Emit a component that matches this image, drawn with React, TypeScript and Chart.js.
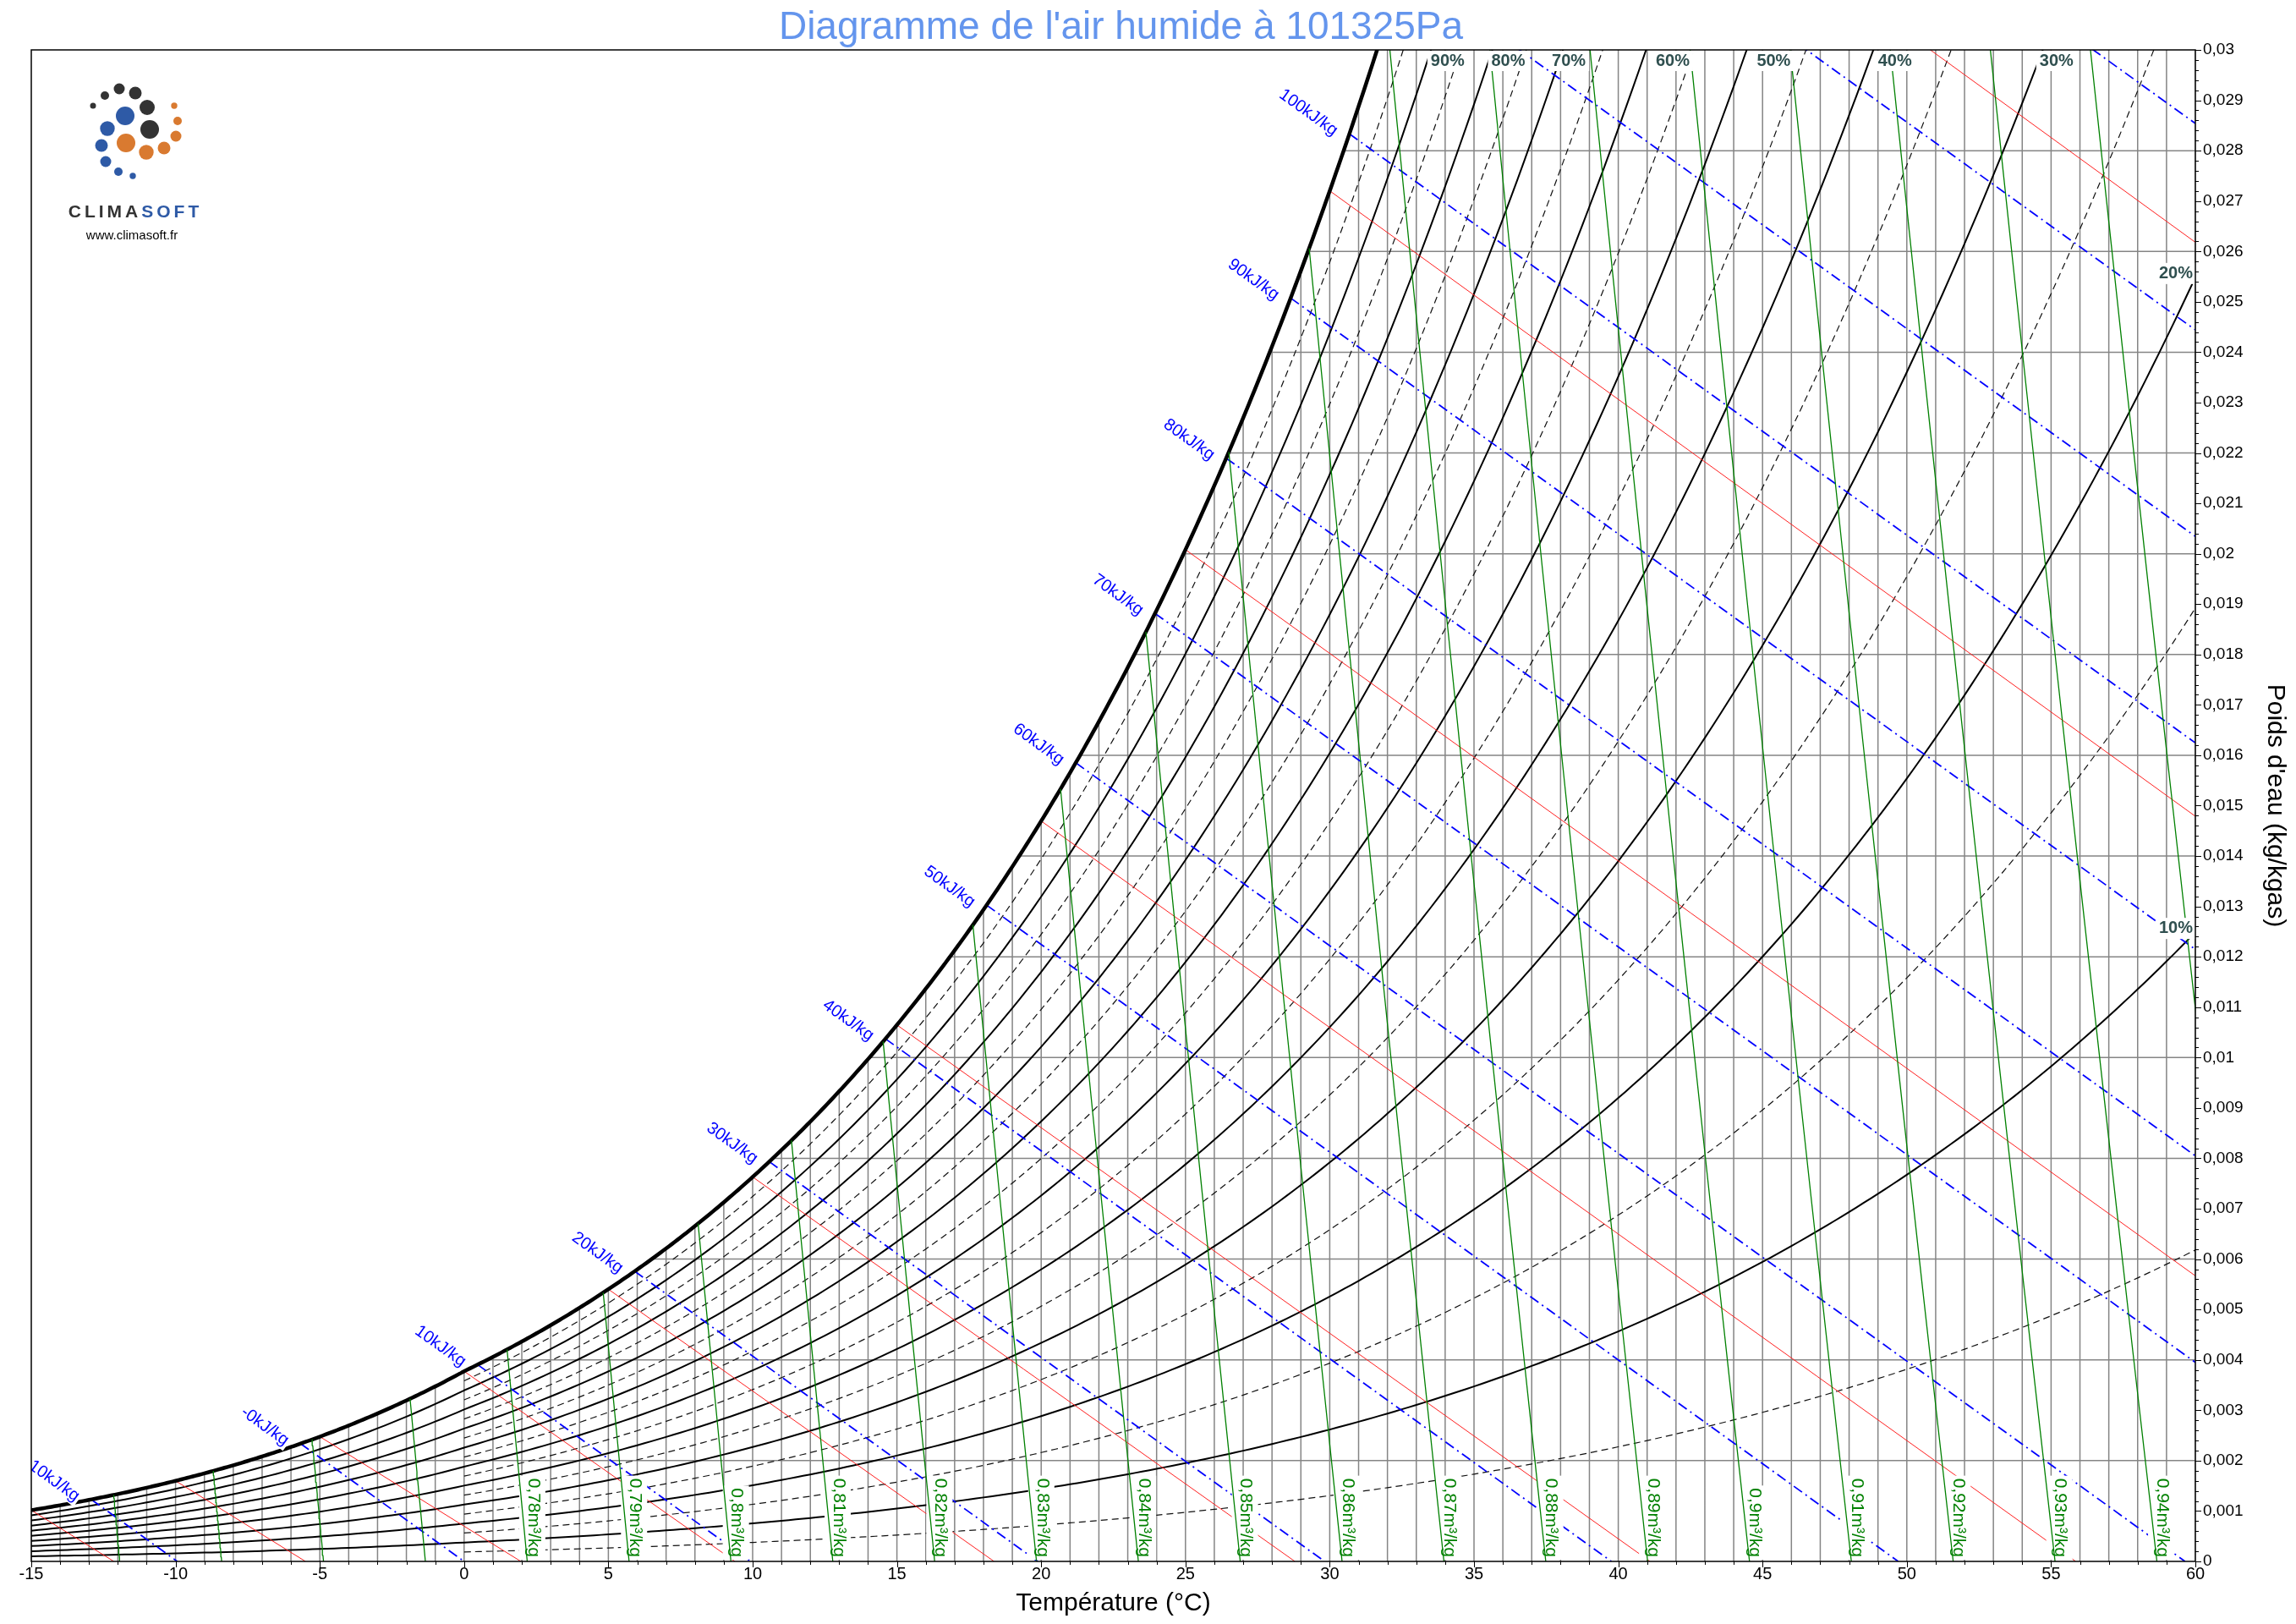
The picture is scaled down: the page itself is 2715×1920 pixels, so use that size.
import React, { useEffect, useRef } from 'react';
import { Chart, registerables } from 'chart.js';

Chart.register(...registerables);

const FONT = "'Liberation Sans', Arial, Helvetica, sans-serif";

// ---------- axes ----------
const tempMin = -15;
const tempMax = 60;
const humMin = 0;
const humMax = 0.03;
const xTickValues = [-15, -10, -5, 0, 5, 10, 15, 20, 25, 30, 35, 40, 45, 50, 55, 60];
const xTickLabels = ['-15', '-10', '-5', '0', '5', '10', '15', '20', '25', '30', '35', '40', '45', '50', '55', '60'];
const yTickLabels = [
  '0', '0,001', '0,002', '0,003', '0,004', '0,005', '0,006', '0,007', '0,008', '0,009', '0,01',
  '0,011', '0,012', '0,013', '0,014', '0,015', '0,016', '0,017', '0,018', '0,019', '0,02',
  '0,021', '0,022', '0,023', '0,024', '0,025', '0,026', '0,027', '0,028', '0,029', '0,03',
];
const gridTemps = [-15, -14, -13, -12, -11, -10, -9, -8, -7, -6, -5, -4, -3, -2, -1, 0, 1, 2, 3, 4, 5, 6, 7, 8, 9, 10,
  11, 12, 13, 14, 15, 16, 17, 18, 19, 20, 21, 22, 23, 24, 25, 26, 27, 28, 29, 30, 31, 32, 33, 34, 35, 36, 37, 38, 39, 40,
  41, 42, 43, 44, 45, 46, 47, 48, 49, 50, 51, 52, 53, 54, 55, 56, 57, 58, 59, 60];
const gridHumidities = [0.002, 0.004, 0.006, 0.008, 0.01, 0.012, 0.014, 0.016, 0.018, 0.02, 0.022, 0.024, 0.026, 0.028];

// ---------- series levels ----------
const rhSolidLevels = [10, 20, 30, 40, 50, 60, 70, 80, 90];
const rhDashedLevels = [5, 15, 25, 35, 45, 55, 65, 75, 85, 95];
const enthalpyLevels = [-10, 0, 10, 20, 30, 40, 50, 60, 70, 80, 90, 100, 110, 120, 130];
const enthalpyLabelTexts = ['-10kJ/kg', '-0kJ/kg', '10kJ/kg', '20kJ/kg', '30kJ/kg', '40kJ/kg', '50kJ/kg',
  '60kJ/kg', '70kJ/kg', '80kJ/kg', '90kJ/kg', '100kJ/kg'];
const wetBulbLevels = [-15, -10, -5, 0, 5, 10, 15, 20, 25, 30, 35];
const volumeLevels = [0.74, 0.75, 0.76, 0.77, 0.78, 0.79, 0.8, 0.81, 0.82, 0.83, 0.84, 0.85, 0.86, 0.87,
  0.88, 0.89, 0.9, 0.91, 0.92, 0.93, 0.94, 0.95];
const volumeLabelLevels = [0.78, 0.79, 0.8, 0.81, 0.82, 0.83, 0.84, 0.85, 0.86, 0.87, 0.88, 0.89, 0.9, 0.91,
  0.92, 0.93, 0.94];
const volumeLabelTexts = ['0,78m³/kg', '0,79m³/kg', '0,8m³/kg', '0,81m³/kg', '0,82m³/kg', '0,83m³/kg',
  '0,84m³/kg', '0,85m³/kg', '0,86m³/kg', '0,87m³/kg', '0,88m³/kg', '0,89m³/kg', '0,9m³/kg', '0,91m³/kg',
  '0,92m³/kg', '0,93m³/kg', '0,94m³/kg'];
const rhTopLabelTexts = ['90%', '80%', '70%', '60%', '50%', '40%', '30%'];
const rhTopLabelTemps = [33.5, 35.6, 37.7, 41.3, 44.8, 49.0, 54.6];
const rhSideLabelLevels = [20, 10];
const rhSideLabelTexts = ['20%', '10%'];

// ---------- psychrometrics ----------
const P_ATM = 101325;
const R_AIR = 287.042;
const CP_AIR = 1.006;
const ENTH_K = 2440;

function satPressure(t: number): number {
  const T = t + 273.15;
  if (t < 0) {
    return Math.exp(-5.6745359e3 / T + 6.3925247 - 9.677843e-3 * T + 6.2215701e-7 * T * T +
      2.0747825e-9 * T ** 3 - 9.484024e-13 * T ** 4 + 4.1635019 * Math.log(T));
  }
  return Math.exp(-5.8002206e3 / T + 1.3914993 - 4.8640239e-2 * T + 4.1764768e-5 * T * T -
    1.4452093e-8 * T ** 3 + 6.5459673 * Math.log(T));
}
function wFromPv(pv: number): number { return 0.621945 * pv / (P_ATM - pv); }
function wSat(t: number): number { return wFromPv(satPressure(t)); }
function wRh(phi: number, t: number): number { return wFromPv(phi / 100 * satPressure(t)); }
function bisect(f: (v: number) => number, a: number, b: number): number {
  let fa = f(a);
  for (let i = 0; i < 80; i++) {
    const m = (a + b) / 2;
    const fm = f(m);
    if ((fm > 0) === (fa > 0)) { a = m; fa = fm; } else { b = m; }
  }
  return (a + b) / 2;
}
function dewPoint(w: number): number { return bisect((t) => wSat(t) - w, -60, 90); }
function enthalpyW(h: number, t: number): number { return (h - CP_AIR * t) / ENTH_K; }
function enthalpyStart(h: number): number { return bisect((t) => wSat(t) - enthalpyW(h, t), -40, 80); }
function volumeTemp(v: number, w: number): number {
  return v * P_ATM * (1 + w) / (R_AIR * (1 + 1.607858 * w)) - 273.15;
}
function volumeEndW(v: number): number { return bisect((w) => wSat(volumeTemp(v, w)) - w, 0, 0.2); }

// ---------- dataset builders ----------
function rhCurve(phi: number, tStart: number, step: number) {
  const pts: { x: number; y: number }[] = [];
  const n = Math.round((tempMax - tStart) / step);
  for (let i = 0; i <= n; i++) {
    const t = tStart + i * step;
    const w = wRh(phi, t);
    pts.push({ x: t, y: w });
    if (w > humMax) break;
  }
  return pts;
}
function gridVertical() {
  const pts: { x: number; y: number }[] = [];
  gridTemps.forEach((t) => {
    pts.push({ x: t, y: humMin }, { x: t, y: Math.min(wSat(t), humMax + 0.001) }, { x: NaN, y: NaN });
  });
  return pts;
}
function gridHorizontal() {
  const pts: { x: number; y: number }[] = [];
  gridHumidities.forEach((w) => {
    pts.push({ x: Math.max(dewPoint(w), tempMin), y: w }, { x: tempMax, y: w }, { x: NaN, y: NaN });
  });
  return pts;
}
function enthalpyLine(h: number) {
  const t0 = enthalpyStart(h);
  const t1 = Math.min(h / CP_AIR, tempMax);
  return [{ x: t0, y: enthalpyW(h, t0) }, { x: t1, y: enthalpyW(h, t1) }];
}
function wetBulbLine(tw: number) {
  const ws = wSat(tw);
  const num = tw >= 0 ? (2501 - 2.326 * tw) * ws : (2830 - 0.24 * tw) * ws;
  const t0 = tw + num / CP_AIR;
  return [{ x: tw, y: ws }, { x: t0, y: 0 }];
}
function volumeLine(v: number) {
  const wEnd = volumeEndW(v);
  const pts: { x: number; y: number }[] = [];
  for (let i = 0; i <= 20; i++) {
    const w = wEnd * i / 20;
    pts.push({ x: volumeTemp(v, w), y: w });
  }
  return pts;
}

function lineDs(data: any, color: string, width: number, order: number, kind: string, dash: number[] = []) {
  return {
    data, kind, order,
    showLine: true, borderColor: color, borderWidth: width, borderDash: dash,
    pointRadius: 0, pointHoverRadius: 0, fill: false, tension: 0, clip: 0, spanGaps: false,
    borderCapStyle: 'butt', borderJoinStyle: 'round',
  };
}

function buildDatasets() {
  const ds: any[] = [];
  ds.push(lineDs(gridVertical(), '#858585', 1.5, 10, 'grid'));
  ds.push(lineDs(gridHorizontal(), '#858585', 1.5, 10, 'grid'));
  rhDashedLevels.forEach((p) => ds.push(lineDs(rhCurve(p, 0, 0.25), '#111111', 1.2, 9, 'rhd', [8, 5])));
  rhSolidLevels.forEach((p) => ds.push(lineDs(rhCurve(p, tempMin, 0.25), '#000000', 2, 8, 'rh')));
  wetBulbLevels.forEach((tw) => ds.push(lineDs(wetBulbLine(tw), '#ff2020', 1, 7, 'wb')));
  enthalpyLevels.forEach((h) => ds.push(lineDs(enthalpyLine(h), '#0000ff', 1.8, 6, 'h', [12, 5, 2, 5])));
  ds.push(lineDs(rhCurve(100, tempMin, 0.1), '#000000', 4.5, 5, 'sat'));
  volumeLevels.forEach((v) => ds.push(lineDs(volumeLine(v), '#008000', 1.3, 3, 'volume')));
  return ds;
}

// ---------- drawing helpers ----------
function drawEnthalpyLabels(chart: any) {
  const { ctx, chartArea: a } = chart;
  const x = chart.scales.x;
  const y = chart.scales.y;
  ctx.save();
  ctx.beginPath();
  ctx.rect(a.left, a.top, a.right - a.left, a.bottom - a.top);
  ctx.clip();
  ctx.font = `20px ${FONT}`;
  const gap = 14;
  const drop = 8;
  enthalpyLabelTexts.forEach((text, i) => {
    const h = enthalpyLevels[i];
    const t0 = enthalpyStart(h);
    const px = x.getPixelForValue(t0);
    const py = y.getPixelForValue(enthalpyW(h, t0));
    const qx = x.getPixelForValue(t0 + 10);
    const qy = y.getPixelForValue(enthalpyW(h, t0 + 10));
    const ang = Math.atan2(qy - py, qx - px);
    const tw = ctx.measureText(text).width;
    ctx.save();
    ctx.translate(px, py);
    ctx.rotate(ang);
    ctx.fillStyle = '#ffffff';
    ctx.fillRect(-gap - tw - 2, drop - 11, tw + 4, 22);
    ctx.fillStyle = '#0000ff';
    ctx.textAlign = 'right';
    ctx.textBaseline = 'middle';
    ctx.fillText(text, -gap, drop);
    ctx.restore();
  });
  ctx.restore();
}

function drawVolumeLabels(chart: any) {
  const { ctx, chartArea: a } = chart;
  const x = chart.scales.x;
  ctx.save();
  ctx.font = `21px ${FONT}`;
  volumeLabelTexts.forEach((text, i) => {
    const v = volumeLabelLevels[i];
    const px = x.getPixelForValue(volumeTemp(v, 0.0008));
    const ox = px + 1;
    const oy = a.bottom - 5;
    const tw = ctx.measureText(text).width;
    ctx.save();
    ctx.translate(ox, oy);
    ctx.rotate(Math.PI / 2);
    ctx.fillStyle = '#ffffff';
    ctx.fillRect(-tw - 3, -25, tw + 6, 31);
    ctx.fillStyle = '#008000';
    ctx.textAlign = 'right';
    ctx.textBaseline = 'bottom';
    ctx.fillText(text, 0, 0);
    ctx.restore();
  });
  ctx.restore();
}

function drawRhLabels(chart: any) {
  const { ctx, chartArea: a } = chart;
  const x = chart.scales.x;
  const y = chart.scales.y;
  ctx.save();
  ctx.font = `bold 20px ${FONT}`;
  ctx.textBaseline = 'alphabetic';
  rhTopLabelTexts.forEach((text, i) => {
    const lx = x.getPixelForValue(rhTopLabelTemps[i]);
    const tw = ctx.measureText(text).width;
    const base = a.top + 19;
    ctx.fillStyle = '#ffffff';
    ctx.fillRect(lx - 4, a.top + 1, tw + 8, 24);
    ctx.fillStyle = '#2f4f4f';
    ctx.textAlign = 'left';
    ctx.fillText(text, lx, base);
  });
  rhSideLabelTexts.forEach((text, i) => {
    const w = wRh(rhSideLabelLevels[i], tempMax);
    const yy = y.getPixelForValue(w);
    const xr = a.right - 3;
    const base = yy + 1;
    const tw = ctx.measureText(text).width;
    ctx.fillStyle = '#ffffff';
    ctx.fillRect(xr - tw - 4, base - 18, tw + 7, 25);
    ctx.fillStyle = '#2f4f4f';
    ctx.textAlign = 'right';
    ctx.fillText(text, xr, base);
  });
  ctx.restore();
}

function drawFrameAndTicks(chart: any) {
  const { ctx, chartArea: a } = chart;
  const x = chart.scales.x;
  const y = chart.scales.y;
  ctx.save();
  ctx.strokeStyle = '#000000';
  ctx.lineWidth = 1;
  ctx.beginPath();
  gridTemps.forEach((t) => {
    const px = Math.round(x.getPixelForValue(t)) + 0.5;
    const len = t % 5 === 0 ? 7 : 4;
    ctx.moveTo(px, a.bottom);
    ctx.lineTo(px, a.bottom + len);
  });
  for (let k = 0; k <= 150; k++) {
    const py = Math.round(y.getPixelForValue(k * 0.0002)) + 0.5;
    const len = k % 5 === 0 ? 7 : 4;
    ctx.moveTo(a.right, py);
    ctx.lineTo(a.right + len, py);
  }
  ctx.stroke();
  ctx.lineWidth = 1.5;
  ctx.strokeRect(a.left, a.top, a.right - a.left, a.bottom - a.top);
  ctx.restore();
}

function drawTitles(chart: any) {
  const { ctx, chartArea: a } = chart;
  const cx = (a.left + a.right) / 2;
  const cy = (a.top + a.bottom) / 2;
  ctx.save();
  ctx.textAlign = 'center';
  ctx.textBaseline = 'alphabetic';
  ctx.fillStyle = '#6495ed';
  ctx.font = `46px ${FONT}`;
  ctx.fillText("Diagramme de l'air humide à 101325Pa", cx + 9, 46);
  ctx.fillStyle = '#000000';
  ctx.font = `30px ${FONT}`;
  ctx.fillText('Température (°C)', cx, 1904);
  ctx.translate(2682, cy);
  ctx.rotate(Math.PI / 2);
  ctx.fillText("Poids d'eau (kg/kgas)", 0, 0);
  ctx.restore();
}

const logoDots: [number, number, number, string][] = [
  [110, 125, 3.5, '#333333'], [124, 113, 5, '#333333'], [141, 105, 6.5, '#333333'], [160, 110, 7.5, '#333333'],
  [174, 127, 9, '#333333'], [177, 153, 11, '#333333'],
  [148, 137, 11, '#2e5aa6'], [127, 152, 8.7, '#2e5aa6'], [120, 172, 7.5, '#2e5aa6'], [125, 191, 6.5, '#2e5aa6'],
  [140, 203, 5, '#2e5aa6'], [157, 208, 3.7, '#2e5aa6'],
  [149, 169, 11, '#d97a30'], [173, 180, 8.7, '#d97a30'], [194, 175, 7.5, '#d97a30'], [208, 161, 6.5, '#d97a30'],
  [210, 143, 5, '#d97a30'], [206, 125, 3.7, '#d97a30'],
];

function drawLogo(chart: any) {
  const { ctx } = chart;
  ctx.save();
  logoDots.forEach(([cx, cy, r, c]) => {
    ctx.beginPath();
    ctx.arc(cx, cy, r, 0, Math.PI * 2);
    ctx.fillStyle = c;
    ctx.fill();
  });
  ctx.font = `bold 21px ${FONT}`;
  ctx.textBaseline = 'alphabetic';
  ctx.textAlign = 'left';
  const word = 'CLIMASOFT';
  const spacing = 4;
  let total = 0;
  for (const ch of word) total += ctx.measureText(ch).width + spacing;
  total -= spacing;
  let px = 158 - total / 2;
  word.split('').forEach((ch, i) => {
    ctx.fillStyle = i < 5 ? '#333333' : '#2e5aa6';
    ctx.fillText(ch, px, 257);
    px += ctx.measureText(ch).width + spacing;
  });
  ctx.font = `15px ${FONT}`;
  ctx.fillStyle = '#000000';
  ctx.textAlign = 'center';
  ctx.fillText('www.climasoft.fr', 156, 283);
  ctx.restore();
}

const psychroPlugin = {
  id: 'psychroLayers',
  beforeDatasetsDraw(chart: any) { chart.$labelsDone = false; },
  beforeDatasetDraw(chart: any, args: any) {
    const ds = chart.data.datasets[args.index];
    if (ds.kind === 'volume' && !chart.$labelsDone) {
      drawEnthalpyLabels(chart);
      drawVolumeLabels(chart);
      chart.$labelsDone = true;
    }
  },
  afterDatasetsDraw(chart: any) {
    drawRhLabels(chart);
    drawFrameAndTicks(chart);
    drawTitles(chart);
    drawLogo(chart);
  },
};

export default function App() {
  const ref = useRef<HTMLCanvasElement | null>(null);
  useEffect(() => {
    if (!ref.current) return;
    const chart = new Chart(ref.current, {
      type: 'scatter',
      data: { datasets: buildDatasets() },
      options: {
        responsive: false,
        animation: false,
        devicePixelRatio: 1,
        events: [],
        layout: { padding: { left: 37, top: 59, right: 0, bottom: 0 } },
        plugins: { legend: { display: false }, tooltip: { enabled: false }, title: { display: false } },
        scales: {
          x: {
            type: 'linear', position: 'bottom', min: tempMin, max: tempMax,
            grid: { display: false, drawTicks: false }, border: { display: false },
            ticks: {
              stepSize: 5, padding: 3, autoSkip: false, maxRotation: 0, color: '#000000',
              font: { family: FONT, size: 20 },
              callback: (v: any) => {
                const idx = xTickValues.indexOf(Math.round(Number(v)));
                return idx >= 0 ? xTickLabels[idx] : '';
              },
            },
            afterFit: (s: any) => { s.height = 74; },
          },
          y: {
            type: 'linear', position: 'right', min: humMin, max: humMax,
            grid: { display: false, drawTicks: false }, border: { display: false },
            ticks: {
              stepSize: 0.001, padding: 9, autoSkip: false, maxTicksLimit: 100, color: '#000000',
              font: { family: FONT, size: 19 },
              callback: (v: any) => yTickLabels[Math.round(Number(v) / 0.001)] ?? '',
            },
            afterFit: (s: any) => { s.width = 119; },
          },
        },
      } as any,
      plugins: [psychroPlugin as any],
    });
    return () => chart.destroy();
  }, []);
  return (
    <div style={{ position: 'absolute', left: 0, top: 0, width: 2715, height: 1920, background: '#ffffff' }}>
      <canvas ref={ref} width={2715} height={1920} style={{ display: 'block', width: 2715, height: 1920 }} />
    </div>
  );
}
